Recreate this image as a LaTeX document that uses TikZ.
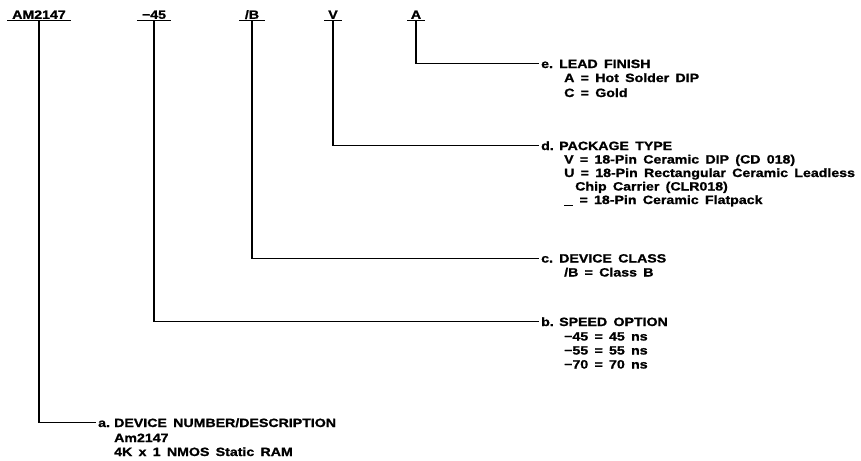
\documentclass[tikz,border=0pt]{standalone}
\usepackage{fontspec}
\newfontfamily\lbfam{Liberation Sans}[FakeStretch=1.18, WordSpace=1.6, FakeBold=1.2]
\begin{document}
\begin{tikzpicture}[x=1pt,y=-1pt,
  lbl/.style={font=\lbfam\bfseries\fontsize{12}{14}\selectfont, inner sep=0pt, text height=8.5pt, text depth=0pt},
  toplbl/.style={lbl, anchor=south, inner ysep=1.5pt},
  head/.style={lbl, anchor=base west, inner xsep=2pt},
  body/.style={lbl, anchor=base west},
  wire/.style={line width=1.2pt}]
\useasboundingbox (0,0) rectangle (861,460);

% top code fields
\node[toplbl, minimum width=63pt] (tAM) at (39,20.5) {AM2147};
\node[toplbl, minimum width=34pt] (tSP) at (154,20.5) {−45};
\node[toplbl, minimum width=25pt] (tCL) at (252,20.5) {/B};
\node[toplbl, minimum width=17pt] (tPK) at (333,20.5) {V};
\node[toplbl, minimum width=17pt] (tLF) at (416,20.5) {A};
\foreach \n in {tAM,tSP,tCL,tPK,tLF}
  \draw[wire] (\n.south west) -- (\n.south east);

% e. lead finish
\node[head] (hE) at (539,68) {\makebox[18pt][l]{e.}LEAD FINISH};
\node[body] (e1) at (564,82) {A = Hot Solder DIP};
\node[body] (e2) at (564,97) {C = Gold};

% d. package type
\node[head] (hD) at (539,150) {\makebox[18pt][l]{d.}PACKAGE TYPE};
\node[body] (d1) at (564,163.5) {V = 18-Pin Ceramic DIP (CD 018)};
\node[body] (d2) at (564,177) {U = 18-Pin Rectangular Ceramic Leadless};
\node[body] (d3) at (575,190.5) {Chip Carrier (CLR018)};
\node[body] (d4) at (564,204) {\rule[-2pt]{9pt}{1pt} = 18-Pin Ceramic Flatpack};

% c. device class
\node[head] (hC) at (539,262.5) {\makebox[18pt][l]{c.}DEVICE CLASS};
\node[body] (c1) at (564,276.5) {/B = Class B};

% b. speed option
\node[head] (hB) at (539,326) {\makebox[18pt][l]{b.}SPEED OPTION};
\node[body] (b1) at (564,340.5) {−45 = 45 ns};
\node[body] (b2) at (564,354.5) {−55 = 55 ns};
\node[body] (b3) at (564,368.5) {−70 = 70 ns};

% a. device number
\node[head] (hA) at (96,427) {\makebox[16pt][l]{a.}DEVICE NUMBER/DESCRIPTION};
\node[body] (a1) at (114,442) {Am2147};
\node[body] (a2) at (114,456) {4K x 1 NMOS Static RAM};

% connectors
\draw[wire] (tLF.south) |- (hE.west);
\draw[wire] (tPK.south) |- (hD.west);
\draw[wire] (tCL.south) |- (hC.west);
\draw[wire] (tSP.south) |- (hB.west);
\draw[wire] (tAM.south) |- (hA.west);
\end{tikzpicture}
\end{document}
